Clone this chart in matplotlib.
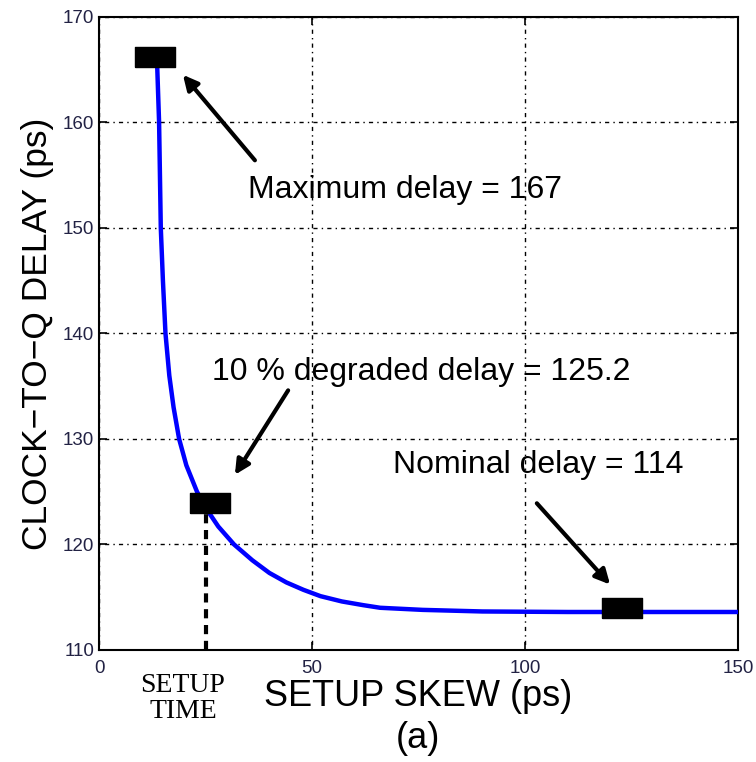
import numpy as np
import matplotlib
matplotlib.use("Agg")
import matplotlib.pyplot as plt

# setup skew (ps) vs clock-to-q delay (ps)
skew = [13.6, 14.1, 14.5, 15.0, 15.6, 16.5, 17.5, 18.8, 20.5, 23, 25.5, 28, 31.7, 36, 40,
        44, 48, 52, 57, 62, 66, 76, 90, 110, 130, 150]
delay = [166, 160, 150, 145, 140, 136, 133, 130, 127.5, 125, 123.2, 121.7, 120, 118.5, 117.3,
         116.4, 115.7, 115.1, 114.6, 114.25, 114.0, 113.8, 113.65, 113.6, 113.6, 113.6]

# marked points: maximum, 10% degraded, nominal
mark_x = [13.1, 26.1, 122.8]
mark_y = [166.2, 123.9, 114.0]
setup_time = 25.1

labels = ["Maximum delay = 167", "10 % degraded delay = 125.2", "Nominal delay = 114"]
label_xy = [(35, 153.6), (26.5, 136.3), (69, 127.5)]
arrow_tail = [(36.6, 156.4), (44.4, 134.6), (102.8, 123.9)]
arrow_tip = [(19.7, 164.5), (31.9, 126.6), (120.0, 116.2)]

plt.rcParams['font.family'] = ['Liberation Sans', 'DejaVu Sans']

fig = plt.figure(figsize=(7.56, 7.62), dpi=100)
ax = fig.add_axes([0.131, 0.147, 0.845, 0.831])

ax.plot(skew, delay, color="#0000ff", lw=3.2, zorder=3, solid_joinstyle="round")

# dashed line marking the setup time
ax.plot([setup_time, setup_time], [110, mark_y[1]], color="black", lw=3,
        linestyle=(0, (2.2, 1.6)), zorder=3)

rect = [(-2, -1), (2, -1), (2, 1), (-2, 1), (-2, -1)]
ax.plot(mark_x, mark_y, linestyle="none", marker=rect, markersize=29,
        color="black", zorder=4)

for txt, (tx, ty) in zip(labels, label_xy):
    ax.text(tx, ty, txt, fontsize=23, va="center", ha="left", zorder=5)
for (x0, y0), (x1, y1) in zip(arrow_tail, arrow_tip):
    ax.annotate("", xy=(x1, y1), xytext=(x0, y0),
                arrowprops=dict(arrowstyle="-|>", color="black", lw=3,
                                mutation_scale=22, shrinkA=0, shrinkB=0))

ax.set_xlim(0, 150)
ax.set_ylim(110, 170)
ax.set_xticks([0, 50, 100, 150])
ax.set_yticks([110, 120, 130, 140, 150, 160, 170])
ax.grid(True, color="black", linestyle=(0, (1, 3, 3, 3)), lw=1)
ax.tick_params(direction="in", top=True, right=True, labelsize=13.5, length=6, width=1.2,
               labelcolor="#222244")
ax.tick_params(axis="x", pad=7)
for sp in ax.spines.values():
    sp.set_linewidth(1.5)

ax.set_ylabel("CLOCK\u2212TO\u2212Q DELAY (ps)", fontsize=25.5, labelpad=6)
ax.set_xlabel("SETUP SKEW (ps)", fontsize=26, labelpad=2)
fig.text(0.553, 0.031, "(a)", fontsize=26, ha="center", va="center")
fig.text(0.242, 0.083, "SETUP\nTIME", fontsize=20, family="Liberation Serif",
         ha="center", va="center", linespacing=1.05)

fig.savefig("out.png", dpi=100)
